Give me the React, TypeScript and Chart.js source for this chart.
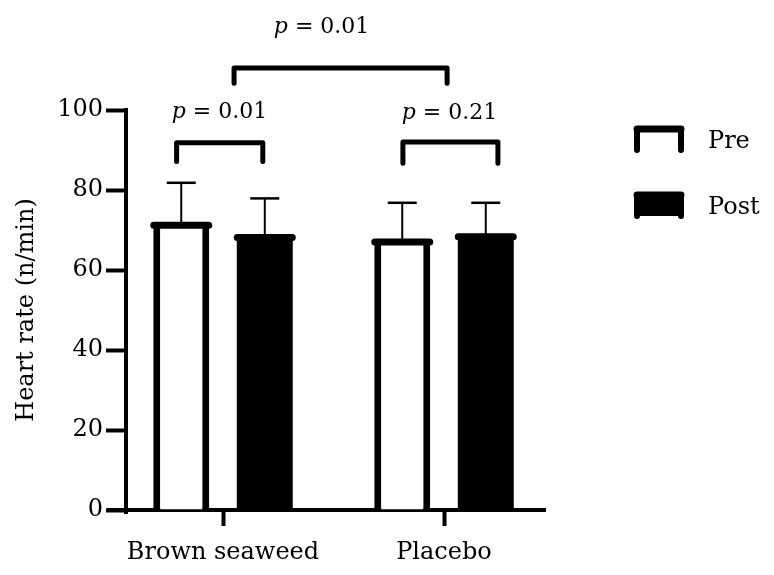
import React, { useEffect, useRef } from "react";
import { Chart, registerables } from "chart.js";

Chart.register(...registerables);

const categories = ["Brown seaweed", "Placebo"];
const seriesNames = ["Pre", "Post"];
const preMeans = [71.2, 67.0];
const preSD = [10.6, 9.8];
const postMeans = [68.1, 68.3];
const postSD = [9.8, 8.5];
const yTicks = [0, 20, 40, 60, 80, 100];

// significance comparisons (data coordinates: x = category index, y = heart rate)
const compLabels = ["0.01", "0.21", "0.01"];
const compX1 = [-0.21, 0.814, 0.05];
const compX2 = [0.18, 1.244, 1.014];
const compY = [91.8, 92.0, 110.5];
const compDrop = [4.7, 5.3, 3.8];
const compTextX = [-0.016, 1.025, 0.446];
const compTextY = [99.5, 99.3, 120.8];

const FONT = "'DejaVu Serif', serif";

const overlayPlugin = {
  id: "overlay",
  afterDatasetsDraw(chart: any) {
    const ctx = chart.ctx;
    const ys = chart.scales.y;
    const sds = [preSD, postSD];
    const means = [preMeans, postMeans];
    ctx.save();
    ctx.strokeStyle = "#000";
    chart.data.datasets.forEach((_ds: any, di: number) => {
      const meta = chart.getDatasetMeta(di);
      meta.data.forEach((bar: any, i: number) => {
        const half = bar.width / 2;
        const yTop = ys.getPixelForValue(means[di][i]);
        const yErr = ys.getPixelForValue(means[di][i] + sds[di][i]);
        // error bar
        ctx.lineWidth = 2;
        ctx.lineCap = "butt";
        ctx.beginPath();
        ctx.moveTo(bar.x, yTop);
        ctx.lineTo(bar.x, yErr);
        ctx.stroke();
        ctx.lineWidth = 2.5;
        ctx.beginPath();
        ctx.moveTo(bar.x - 14.5, yErr);
        ctx.lineTo(bar.x + 14.5, yErr);
        ctx.stroke();
        // thick top cap
        ctx.lineCap = "round";
        ctx.lineWidth = 7;
        ctx.beginPath();
        ctx.moveTo(bar.x - half + 0.5, yTop);
        ctx.lineTo(bar.x + half - 0.5, yTop);
        ctx.stroke();
      });
    });
    ctx.restore();
  },
  afterDraw(chart: any) {
    const ctx = chart.ctx;
    const xs = chart.scales.x;
    const ys = chart.scales.y;
    const area = chart.chartArea;
    ctx.save();
    ctx.strokeStyle = "#000";
    ctx.fillStyle = "#000";
    // extend x axis line to the left past the y axis
    ctx.lineWidth = 4;
    ctx.beginPath();
    ctx.moveTo(area.left - 19, area.bottom);
    ctx.lineTo(area.left, area.bottom);
    ctx.stroke();
    ctx.beginPath();
    ctx.moveTo(area.left, area.bottom);
    ctx.lineTo(area.left, area.bottom + 4);
    ctx.stroke();

    // brackets
    ctx.lineCap = "round";
    ctx.lineJoin = "round";
    ctx.lineWidth = 5;
    for (let k = 0; k < compLabels.length; k++) {
      const x1 = xs.getPixelForValue(compX1[k]);
      const x2 = xs.getPixelForValue(compX2[k]);
      const y = ys.getPixelForValue(compY[k]);
      const yd = ys.getPixelForValue(compY[k] - compDrop[k]);
      ctx.beginPath();
      ctx.moveTo(x1, yd);
      ctx.lineTo(x1, y);
      ctx.lineTo(x2, y);
      ctx.lineTo(x2, yd);
      ctx.stroke();
      // label: italic p + " = value"
      const italic = "italic 22px " + FONT;
      const regular = "22px " + FONT;
      const rest = " = " + compLabels[k];
      ctx.font = italic;
      const wp = ctx.measureText("p").width;
      ctx.font = regular;
      const wr = ctx.measureText(rest).width;
      const cx = xs.getPixelForValue(compTextX[k]);
      const cy = ys.getPixelForValue(compTextY[k]);
      const sx = cx - (wp + wr) / 2;
      ctx.textBaseline = "middle";
      ctx.textAlign = "left";
      ctx.font = italic;
      ctx.fillText("p", sx, cy);
      ctx.font = regular;
      ctx.fillText(rest, sx + wp, cy);
    }

    // legend
    const lx = area.right + 91;
    const lw = 46;
    const fills = ["#fff", "#000"];
    const legendY = [129, 195];
    legendY.forEach((ty, i) => {
      const by = ty + 21;
      ctx.fillStyle = fills[i];
      ctx.fillRect(lx, ty, lw, by - ty);
      ctx.strokeStyle = "#000";
      ctx.lineCap = "round";
      ctx.lineWidth = 6;
      ctx.beginPath();
      ctx.moveTo(lx + 1, ty);
      ctx.lineTo(lx + 1, by);
      ctx.moveTo(lx + lw - 1, ty);
      ctx.lineTo(lx + lw - 1, by);
      ctx.stroke();
      ctx.lineWidth = 7;
      ctx.beginPath();
      ctx.moveTo(lx + 1, ty);
      ctx.lineTo(lx + lw - 1, ty);
      ctx.stroke();
      ctx.fillStyle = "#000";
      ctx.font = "24px " + FONT;
      ctx.textAlign = "left";
      ctx.textBaseline = "middle";
      ctx.fillText(seriesNames[i], lx + 72, ty + 13);
    });
    ctx.restore();
  },
};

export default function App() {
  const ref = useRef<HTMLCanvasElement>(null);
  useEffect(() => {
    if (!ref.current) return;
    Chart.defaults.font.family = FONT;
    Chart.defaults.color = "#000";
    const chart = new Chart(ref.current, {
      type: "bar",
      data: {
        datasets: [
          {
            label: seriesNames[0],
            data: preMeans.map((v, i) => ({ x: i, y: v })),
            backgroundColor: "#fff",
            borderColor: "#000",
            borderWidth: { left: 7, right: 7, top: 0, bottom: 0 },
            borderSkipped: false,
          },
          {
            label: seriesNames[1],
            data: postMeans.map((v, i) => ({ x: i, y: v })),
            backgroundColor: "#000",
            borderColor: "#000",
            borderWidth: 0,
          },
        ],
      },
      options: {
        animation: false,
        responsive: false,
        devicePixelRatio: 1,
        categoryPercentage: 0.756,
        barPercentage: 0.67,
        layout: { padding: { top: 110, right: 229, left: 0, bottom: 0 } },
        plugins: { legend: { display: false }, tooltip: { enabled: false } },
        scales: {
          x: {
            type: "linear",
            min: -0.439,
            max: 1.457,
            offset: false,
            afterBuildTicks: (s: any) => {
              s.ticks = categories.map((_, i) => ({ value: i }));
            },
            afterFit: (s: any) => {
              s.height = 65;
            },
            ticks: {
              callback: (v: any) => categories[v as number] ?? "",
              font: { size: 24 },
              color: "#000",
              padding: 12,
              maxRotation: 0,
              autoSkip: false,
            },
            grid: {
              offset: false,
              drawOnChartArea: false,
              drawTicks: true,
              tickLength: 16,
              tickWidth: 4,
              tickColor: "#000",
            },
            border: { display: true, width: 4, color: "#000" },
          },
          y: {
            min: 0,
            max: 100,
            afterBuildTicks: (s: any) => {
              s.ticks = yTicks.map((v) => ({ value: v }));
            },
            afterFit: (s: any) => {
              s.width = 126;
            },
            ticks: { font: { size: 24 }, color: "#000", padding: 3 },
            grid: {
              drawOnChartArea: false,
              drawTicks: true,
              tickLength: 20,
              tickWidth: 4,
              tickColor: "#000",
            },
            border: { display: true, width: 4, color: "#000" },
            title: {
              display: true,
              text: "Heart rate (n/min)",
              font: { size: 24 },
              color: "#000",
              padding: { top: 12, bottom: 0 },
            },
          },
        },
      },
      plugins: [overlayPlugin],
    } as any);
    return () => chart.destroy();
  }, []);
  return (
    <div style={{ position: "absolute", left: 0, top: 0, width: 774, height: 575, background: "#fff" }}>
      <canvas ref={ref} width={774} height={575} style={{ width: 774, height: 575 }} />
    </div>
  );
}
